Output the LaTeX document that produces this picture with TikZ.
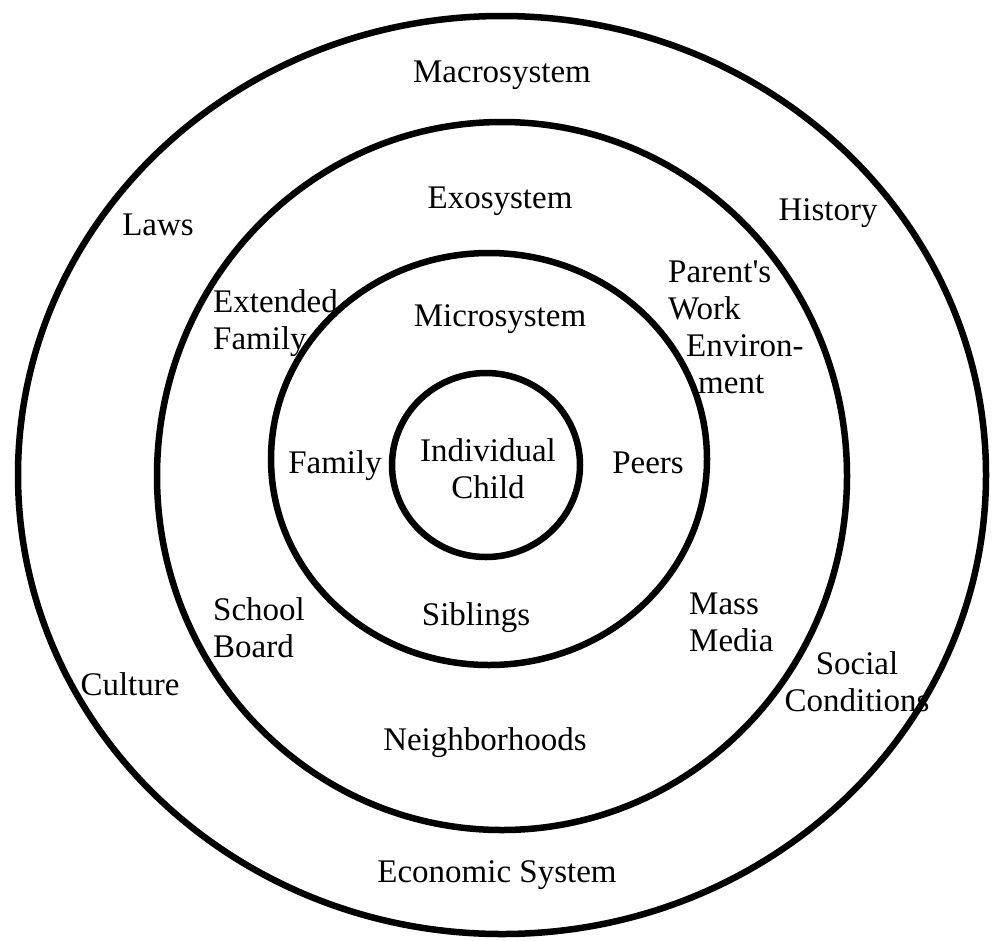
\documentclass[tikz,border=0pt]{standalone}
\usepackage{fontspec}
\setmainfont{Liberation Serif}
\usetikzlibrary{positioning}
\newcommand{\straightquote}{{\XeTeXglyph\the\XeTeXcharglyph"27\relax}}

\begin{document}
\begin{tikzpicture}[
    x=1pt, y=-1pt,
    ring/.style={line width=6.5pt},
    ringtext/.style={font=\fontsize{33}{37}\selectfont, inner sep=0pt},
    lefttext/.style={ringtext, anchor=west, align=left},
    midtext/.style={ringtext, align=center}
]
    \useasboundingbox (0,0) rectangle (992,940);

    % Rings
    \draw[ring] (502,475) ellipse [x radius=484, y radius=459];
    \draw[ring] (502,476) ellipse [x radius=345, y radius=354];
    \draw[ring] (489,459) ellipse [x radius=218, y radius=206];
    \draw[ring] (486,465) ellipse [x radius=94, y radius=92];

    % Macrosystem
    \node[ringtext] (macro) at (502,75) {Macrosystem};
    \node[ringtext] (laws) at (158,225) {Laws};
    \node[ringtext] (history) at (828,213) {History};
    \node[ringtext] (culture) at (130,684) {Culture};
    \node[midtext] (social) at (857,682) {Social\\Conditions};
    \node[ringtext] (economic) at (497,875) {Economic System};

    % Exosystem
    \node[ringtext] (exo) at (500,201) {Exosystem};
    \node[lefttext] (extended) at (213,323) {Extended\\Family};
    \node[lefttext] (parents) at (668,327) {Parent\straightquote s\\Work\\\hspace*{18pt}Environ-\\\hspace*{30pt}ment};
    \node[lefttext] (school) at (213,628) {School\\Board};
    \node[lefttext] (media) at (689,622) {Mass\\Media};
    \node[ringtext] (neighbor) at (485,743) {Neighborhoods};

    % Microsystem
    \node[ringtext] (micro) at (500,319) {Microsystem};
    \node[ringtext] (family) at (335,466) {Family};
    \node[ringtext] (peers) at (648,463) {Peers};
    \node[ringtext] (siblings) at (476,618) {Siblings};

    % Individual
    \node[midtext] (child) at (488,469) {Individual\\Child};
\end{tikzpicture}
\end{document}
